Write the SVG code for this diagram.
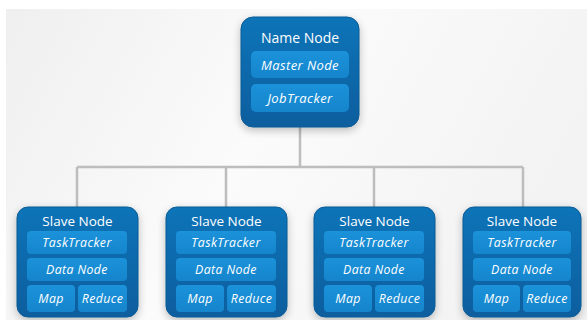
<svg xmlns="http://www.w3.org/2000/svg" width="587" height="320" viewBox="0 0 587 320">
  <defs>
    <linearGradient id="bg" x1="0" y1="0" x2="1" y2="0.3">
      <stop offset="0" stop-color="#efefef"/>
      <stop offset="0.5" stop-color="#fbfbfb"/>
      <stop offset="1" stop-color="#f3f3f3"/>
    </linearGradient>
    <linearGradient id="outer" x1="0" y1="0" x2="0" y2="1">
      <stop offset="0" stop-color="#0f74b8"/>
      <stop offset="1" stop-color="#095e9e"/>
    </linearGradient>
    <linearGradient id="inner" x1="0" y1="0" x2="0" y2="1">
      <stop offset="0" stop-color="#1b92da"/>
      <stop offset="1" stop-color="#1585cc"/>
    </linearGradient>
    <filter id="shadow" x="-30%" y="-30%" width="160%" height="160%">
      <feGaussianBlur in="SourceAlpha" stdDeviation="4"/>
      <feOffset dy="3"/>
      <feComponentTransfer><feFuncA type="linear" slope="0.25"/></feComponentTransfer>
      <feMerge><feMergeNode/><feMergeNode in="SourceGraphic"/></feMerge>
    </filter>
  </defs>
  <style>
    .box { fill: url(#outer); stroke: #0a5a94; stroke-width: 1; filter: url(#shadow); }
    .cell { fill: url(#inner); }
    .title { font-family: "Open Sans", "Noto Sans", sans-serif; fill: #ffffff; text-anchor: middle; }
    .label { font-family: "Open Sans", "Noto Sans", sans-serif; font-style: italic; fill: #ffffff; text-anchor: middle; letter-spacing: 0.4px; }
    .wire { fill: none; stroke: #bdbdbd; stroke-width: 2.5; }
  </style>

  <!-- page background -->
  <rect x="0" y="0" width="587" height="320" fill="#ffffff"/>
  <rect x="6" y="9" width="581" height="311" fill="url(#bg)"/>

  <!-- tree connectors -->
  <g id="connectors">
    <path class="wire" d="M300 127 V167"/>
    <path class="wire" d="M77 167 H523"/>
    <path class="wire" d="M77 167 V208"/>
    <path class="wire" d="M226 167 V208"/>
    <path class="wire" d="M374 167 V208"/>
    <path class="wire" d="M523 167 V208"/>
  </g>

  <!-- master -->
  <g id="name-node">
    <rect class="box" x="241" y="17" width="118" height="110" rx="12"/>
    <text class="title" x="300" y="43" font-size="14">Name Node</text>
    <rect class="cell" x="251" y="51" width="98" height="27" rx="5"/>
    <text class="label" x="300" y="69.5" font-size="13">Master Node</text>
    <rect class="cell" x="251" y="84" width="98" height="28" rx="5"/>
    <text class="label" x="300" y="102.5" font-size="13">JobTracker</text>
  </g>

  <!-- workers -->
  <g id="slave-node-1" transform="translate(17 0)">
    <rect class="box" x="0" y="207" width="121" height="110" rx="11"/>
    <text class="title" x="60.5" y="225.5" font-size="13.5">Slave Node</text>
    <rect class="cell" x="10" y="231" width="100" height="23" rx="4"/>
    <text class="label" x="60" y="247" font-size="12.3">TaskTracker</text>
    <rect class="cell" x="10" y="258" width="100" height="23" rx="4"/>
    <text class="label" x="60" y="274" font-size="12.3">Data Node</text>
    <rect class="cell" x="10" y="285" width="48" height="27" rx="4"/>
    <text class="label" x="34" y="302.5" font-size="12.3">Map</text>
    <rect class="cell" x="61" y="285" width="49" height="27" rx="4"/>
    <text class="label" x="85.5" y="302.5" font-size="12.3">Reduce</text>
  </g>
  <g id="slave-node-2" transform="translate(166 0)">
    <rect class="box" x="0" y="207" width="121" height="110" rx="11"/>
    <text class="title" x="60.5" y="225.5" font-size="13.5">Slave Node</text>
    <rect class="cell" x="10" y="231" width="100" height="23" rx="4"/>
    <text class="label" x="60" y="247" font-size="12.3">TaskTracker</text>
    <rect class="cell" x="10" y="258" width="100" height="23" rx="4"/>
    <text class="label" x="60" y="274" font-size="12.3">Data Node</text>
    <rect class="cell" x="10" y="285" width="48" height="27" rx="4"/>
    <text class="label" x="34" y="302.5" font-size="12.3">Map</text>
    <rect class="cell" x="61" y="285" width="49" height="27" rx="4"/>
    <text class="label" x="85.5" y="302.5" font-size="12.3">Reduce</text>
  </g>
  <g id="slave-node-3" transform="translate(314 0)">
    <rect class="box" x="0" y="207" width="121" height="110" rx="11"/>
    <text class="title" x="60.5" y="225.5" font-size="13.5">Slave Node</text>
    <rect class="cell" x="10" y="231" width="100" height="23" rx="4"/>
    <text class="label" x="60" y="247" font-size="12.3">TaskTracker</text>
    <rect class="cell" x="10" y="258" width="100" height="23" rx="4"/>
    <text class="label" x="60" y="274" font-size="12.3">Data Node</text>
    <rect class="cell" x="10" y="285" width="48" height="27" rx="4"/>
    <text class="label" x="34" y="302.5" font-size="12.3">Map</text>
    <rect class="cell" x="61" y="285" width="49" height="27" rx="4"/>
    <text class="label" x="85.5" y="302.5" font-size="12.3">Reduce</text>
  </g>
  <g id="slave-node-4" transform="translate(463 0)">
    <rect class="box" x="0" y="207" width="118" height="110" rx="11"/>
    <text class="title" x="59" y="225.5" font-size="13.5">Slave Node</text>
    <rect class="cell" x="10" y="231" width="98" height="23" rx="4"/>
    <text class="label" x="59" y="247" font-size="12.3">TaskTracker</text>
    <rect class="cell" x="10" y="258" width="98" height="23" rx="4"/>
    <text class="label" x="59" y="274" font-size="12.3">Data Node</text>
    <rect class="cell" x="10" y="285" width="47" height="27" rx="4"/>
    <text class="label" x="33.5" y="302.5" font-size="12.3">Map</text>
    <rect class="cell" x="60" y="285" width="48" height="27" rx="4"/>
    <text class="label" x="84" y="302.5" font-size="12.3">Reduce</text>
  </g>
</svg>
